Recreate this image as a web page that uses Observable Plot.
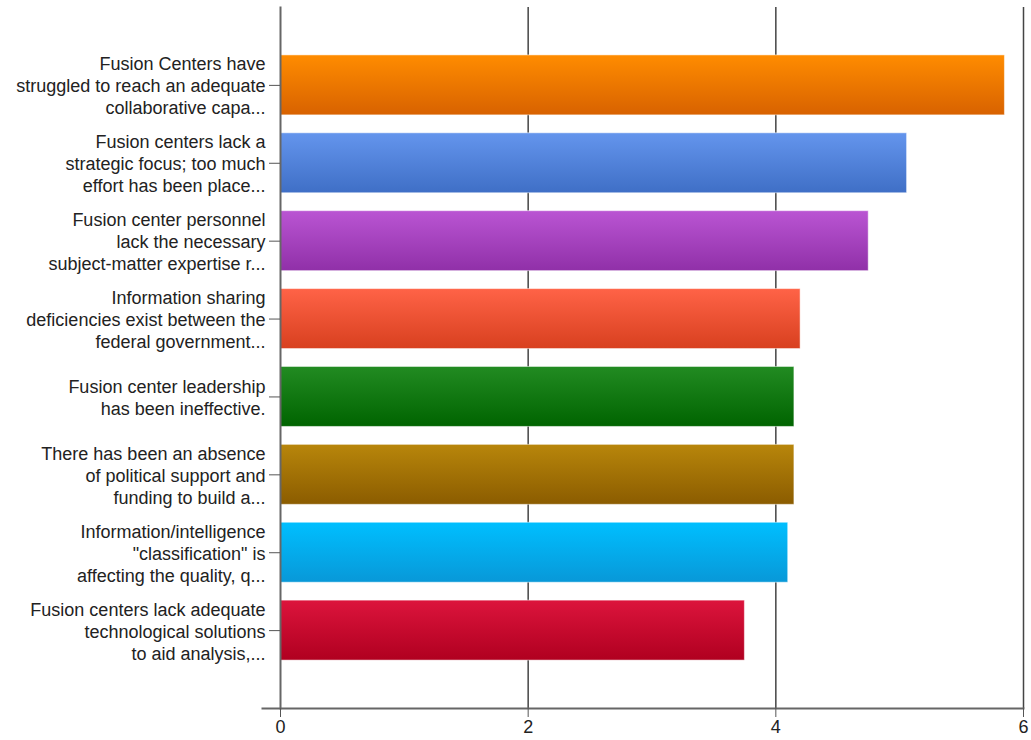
<!DOCTYPE html>
<html><head><meta charset="utf-8">
<script src="https://cdn.jsdelivr.net/npm/d3@7"></script>
<script src="https://cdn.jsdelivr.net/npm/@observablehq/plot@0.6"></script>
<style>body{margin:0;background:#fff;}</style>
</head><body><div id="chart"></div>
<script>
const categories = [
  "Fusion Centers have\nstruggled to reach an adequate\ncollaborative capa...",
  "Fusion centers lack a\nstrategic focus; too much\neffort has been place...",
  "Fusion center personnel\nlack the necessary\nsubject-matter expertise r...",
  "Information sharing\ndeficiencies exist between the\nfederal government...",
  "Fusion center leadership\nhas been ineffective.",
  "There has been an absence\nof political support and\nfunding to build a...",
  "Information/intelligence\n\"classification\" is\naffecting the quality, q...",
  "Fusion centers lack adequate\ntechnological solutions\nto aid analysis,..."
];
const values = [5.85, 5.06, 4.75, 4.2, 4.15, 4.15, 4.1, 3.75];
const topColors = ["#ff8c00", "#6495ed", "#ba55d3", "#ff6347", "#228b22", "#b8860b", "#00bfff", "#dc143c"];
const bottomColors = ["#d86200", "#3f6fc6", "#9030a8", "#d8401f", "#006400", "#8b5c00", "#0898d8", "#b00020"];
const xTicks = [0, 2, 4, 6];

const data = categories.map((c, i) => ({label: c, value: values[i], fill: `url(#grad${i})`}));

const defs = () => {
  const d = d3.create("svg:defs");
  categories.forEach((c, i) => {
    const g = d.append("linearGradient").attr("id", "grad" + i)
      .attr("x1", 0).attr("y1", 0).attr("x2", 0).attr("y2", 1);
    g.append("stop").attr("offset", "0%").attr("stop-color", topColors[i]);
    g.append("stop").attr("offset", "100%").attr("stop-color", bottomColors[i]);
  });
  return d.node();
};

const chart = Plot.plot({
  width: 1031, height: 740,
  marginLeft: 280, marginRight: 8, marginTop: 7, marginBottom: 32,
  style: {fontFamily: "'Liberation Sans', Arial, sans-serif", fontSize: "18px", color: "#222", background: "#fff"},
  x: {domain: [0, 6], ticks: xTicks},
  y: {domain: categories, paddingInner: 0.23, paddingOuter: 0.615, round: false},
  color: {type: "identity"},
  marks: [
    defs,
    Plot.gridX(xTicks.slice(1), {stroke: "#444", strokeOpacity: 1, strokeWidth: 1.5}),
    Plot.barX(data, {x: "value", y: "label", fill: "fill", stroke: "#ffffff", strokeOpacity: 0.5}),
    Plot.frame({anchor: "left", stroke: "#666", strokeWidth: 2}),
    Plot.frame({anchor: "bottom", stroke: "#666", strokeWidth: 2, insetLeft: -18}),
    Plot.axisX({ticks: xTicks, tickFormat: "d", tickSize: 9, tickPadding: 3, label: null, fontSize: 18, stroke: "#555"}),
    Plot.axisY({tickSize: 11, tickPadding: 4, label: null, lineHeight: 1.22, fontSize: 18, stroke: "#555"})
  ]
});
document.getElementById("chart").appendChild(chart);
</script>
</body></html>
